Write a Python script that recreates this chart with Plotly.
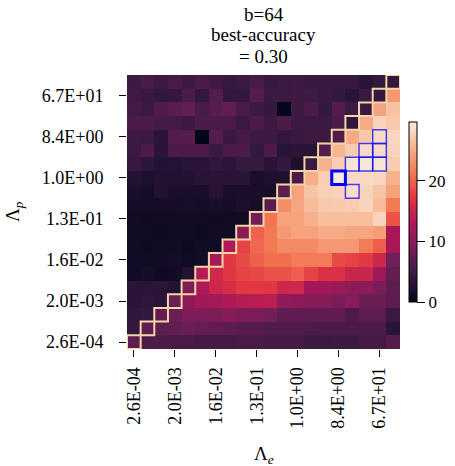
import plotly.graph_objects as go

# ---- data -------------------------------------------------------------
n_cells = 20
tick_idx = [0, 3, 6, 9, 12, 15, 18]
tick_labels = ["2.6E-04", "2.0E-03", "1.6E-02", "1.3E-01", "1.0E+00", "8.4E+00", "6.7E+01"]

# accuracy (%) ; acc[row][col], row 0 = smallest Lambda_p (bottom), col 0 = smallest Lambda_e
acc = [
    [7.4, 6.0, 6.0, 5.8, 5.8, 5.4, 5.4, 5.4, 5.8, 5.8, 5.4, 5.4, 5.4, 4.7, 4.7, 4.8, 4.7, 5.4, 5.4, 6.6],
    [4.2, 7.4, 7.1, 7.4, 8.0, 7.7, 7.4, 7.1, 6.6, 6.6, 6.3, 6.3, 6.3, 6.0, 5.8, 5.8, 5.8, 5.8, 5.8, 3.4],
    [3.8, 4.2, 7.4, 8.0, 9.3, 9.3, 9.3, 10.1, 9.3, 9.3, 8.5, 7.4, 7.4, 7.4, 7.4, 7.4, 6.0, 7.1, 7.1, 4.7],
    [3.4, 3.8, 3.4, 8.0, 10.5, 12.0, 12.3, 13.0, 13.5, 13.6, 13.9, 10.8, 10.5, 10.1, 10.1, 9.3, 10.1, 8.0, 8.0, 7.1],
    [3.4, 3.4, 3.4, 2.7, 9.5, 13.0, 15.3, 16.0, 17.2, 17.2, 17.2, 15.3, 15.3, 12.0, 12.0, 11.6, 10.5, 10.5, 9.3, 7.1],
    [1.3, 1.6, 1.1, 1.4, 2.7, 13.5, 15.6, 17.2, 18.0, 18.3, 19.0, 19.0, 19.7, 18.0, 16.5, 16.5, 15.0, 15.0, 11.6, 7.7],
    [1.3, 1.2, 1.3, 1.5, 1.3, 1.4, 12.3, 17.2, 18.5, 19.8, 20.7, 20.7, 21.6, 21.6, 21.6, 18.5, 18.0, 17.3, 15.3, 8.5],
    [1.2, 1.1, 1.3, 1.2, 1.0, 1.2, 1.4, 13.0, 18.0, 20.3, 21.4, 22.6, 22.6, 22.6, 23.5, 23.5, 23.5, 21.6, 19.7, 12.5],
    [1.2, 1.3, 1.1, 1.2, 1.2, 1.0, 1.2, 1.3, 10.5, 20.0, 21.4, 23.5, 24.2, 24.2, 24.8, 24.8, 24.5, 24.5, 23.9, 12.5],
    [1.2, 1.1, 1.2, 1.3, 1.2, 1.2, 1.1, 1.2, 1.3, 8.5, 21.2, 24.2, 24.2, 25.2, 26.3, 26.3, 26.3, 26.3, 27.9, 19.0],
    [1.8, 1.8, 1.7, 1.8, 1.9, 1.8, 2.0, 1.8, 2.2, 1.8, 7.0, 22.7, 24.5, 26.0, 27.0, 27.1, 27.3, 27.9, 26.0, 21.5],
    [2.0, 1.6, 2.8, 2.0, 2.0, 2.0, 3.1, 2.0, 2.0, 2.0, 1.8, 7.2, 24.2, 26.7, 27.6, 27.8, 28.6, 27.8, 26.7, 24.2],
    [2.8, 2.3, 2.6, 2.6, 2.7, 3.1, 3.4, 3.4, 3.4, 2.0, 2.3, 2.3, 5.8, 25.0, 27.4, 29.7, 28.3, 28.3, 28.1, 25.2],
    [4.4, 3.6, 2.8, 3.0, 3.3, 3.3, 4.0, 3.5, 4.3, 4.3, 3.4, 4.2, 2.4, 4.6, 25.2, 27.4, 29.2, 29.2, 29.1, 27.3],
    [4.7, 6.0, 3.3, 5.9, 6.0, 6.0, 4.5, 6.0, 5.9, 4.2, 6.0, 3.1, 3.4, 3.1, 6.5, 25.6, 27.3, 28.4, 28.4, 27.8],
    [4.8, 4.7, 3.4, 6.6, 6.6, 0.0, 6.6, 4.5, 5.4, 4.8, 4.8, 4.1, 4.4, 4.8, 4.7, 6.3, 24.7, 27.0, 28.3, 28.0],
    [5.9, 6.0, 5.4, 5.4, 4.7, 5.9, 5.9, 6.0, 4.7, 5.9, 4.8, 6.0, 4.8, 4.7, 4.8, 6.0, 3.8, 24.8, 27.8, 27.0],
    [5.4, 4.8, 6.1, 7.0, 7.5, 5.8, 6.6, 7.5, 5.8, 4.8, 4.2, 0.2, 4.8, 6.0, 4.2, 6.6, 4.8, 4.5, 24.3, 26.5],
    [5.0, 4.5, 4.0, 4.2, 5.8, 4.1, 6.5, 4.0, 4.0, 6.6, 4.7, 4.7, 4.8, 4.8, 4.4, 4.2, 3.1, 4.5, 4.2, 23.5],
    [4.8, 5.8, 4.8, 5.8, 4.8, 5.8, 5.0, 4.3, 4.8, 5.8, 4.4, 4.7, 4.8, 4.4, 4.4, 4.4, 4.4, 3.4, 4.2, 4.0],
]

best_cell = (15, 12)  # (col, row)
near_best_cells = [(16, 11), (16, 13), (17, 13), (18, 13), (17, 14), (18, 14), (18, 15)]

z_max = 29.7
title_lines = ["b=64", "best-accuracy", "= 0.30"]

rocket = [
    [0.0, "#03051A"], [1 / 7, "#35193E"], [2 / 7, "#701F57"], [3 / 7, "#AD1759"],
    [4 / 7, "#E13342"], [5 / 7, "#F37651"], [6 / 7, "#F6B48F"], [1.0, "#FAEBDD"],
]

FONT = "'Liberation Serif', serif"

# ---- geometry (pixels) ------------------------------------------------
W, H = 455, 466
ML, MR, MT, MB = 127, 55, 75, 117
PW, PH = W - ML - MR, H - MT - MB


def px_x(xp):
    return (xp - ML) / PW


def px_y(yp):
    return (H - MB - yp) / PH


# ---- figure -----------------------------------------------------------
fig = go.Figure(
    go.Heatmap(
        z=acc,
        x=list(range(n_cells)),
        y=list(range(n_cells)),
        zmin=0,
        zmax=z_max,
        colorscale=rocket,
        colorbar=dict(
            thickness=8, thicknessmode="pixels",
            len=180, lenmode="pixels",
            x=px_x(409), xanchor="left", xref="paper", xpad=0, ypad=0,
            y=0.5, yanchor="middle",
            outlinewidth=1, outlinecolor="black",
            tickvals=[0, 10, 20], ticks="outside", ticklen=8, tickwidth=1.2,
            tickcolor="black", tickprefix="\u2002\u2009",
            tickfont=dict(family=FONT, size=17, color="black"),
        ),
    )
)

shapes = []
for i in range(n_cells):
    shapes.append(dict(type="rect", xref="x", yref="y",
                       x0=i - 0.5, x1=i + 0.5, y0=i - 0.5, y1=i + 0.5,
                       line=dict(color="#F4D5A8", width=2)))
for (c, r) in near_best_cells:
    shapes.append(dict(type="rect", xref="x", yref="y",
                       x0=c - 0.5, x1=c + 0.5, y0=r - 0.5, y1=r + 0.5,
                       line=dict(color="rgba(20,20,255,0.8)", width=1.5)))
bc, br = best_cell
shapes.append(dict(type="rect", xref="x", yref="y",
                   x0=bc - 0.5, x1=bc + 0.5, y0=br - 0.5, y1=br + 0.5,
                   line=dict(color="#0000FF", width=3)))

axis_common = dict(
    tickvals=tick_idx, ticktext=tick_labels,
    ticks="outside", ticklen=7, tickwidth=1.3, tickcolor="black",
    showgrid=False, zeroline=False, showline=False,
    tickfont=dict(family=FONT, size=18, color="black"),
    range=[-0.5, n_cells - 0.5],
    automargin=False,
)

annotations = []
for k, line in enumerate(title_lines):
    annotations.append(dict(text=line, xref="paper", yref="paper",
                            x=0.5, y=px_y(14 + 21 * k), xanchor="center", yanchor="middle",
                            showarrow=False, font=dict(family=FONT, size=19, color="black")))
annotations.append(dict(text="Λ<sub><i>e</i></sub>", xref="paper", yref="paper",
                        x=0.5, y=px_y(455), xanchor="center", yanchor="middle",
                        showarrow=False, font=dict(family=FONT, size=19, color="black")))
annotations.append(dict(text="Λ<sub><i>p</i></sub>", xref="paper", yref="paper",
                        x=px_x(14), y=0.5, xanchor="center", yanchor="middle", textangle=-90,
                        showarrow=False, font=dict(family=FONT, size=19, color="black")))

fig.update_layout(
    width=W, height=H,
    margin=dict(l=ML, r=MR, t=MT, b=MB, autoexpand=False),
    paper_bgcolor="white", plot_bgcolor="white",
    xaxis=dict(**axis_common, tickangle=-90, ticklabelstandoff=3),
    yaxis=dict(**axis_common, ticklabelstandoff=12),
    shapes=shapes,
    annotations=annotations,
)

fig.write_html("out.html")
